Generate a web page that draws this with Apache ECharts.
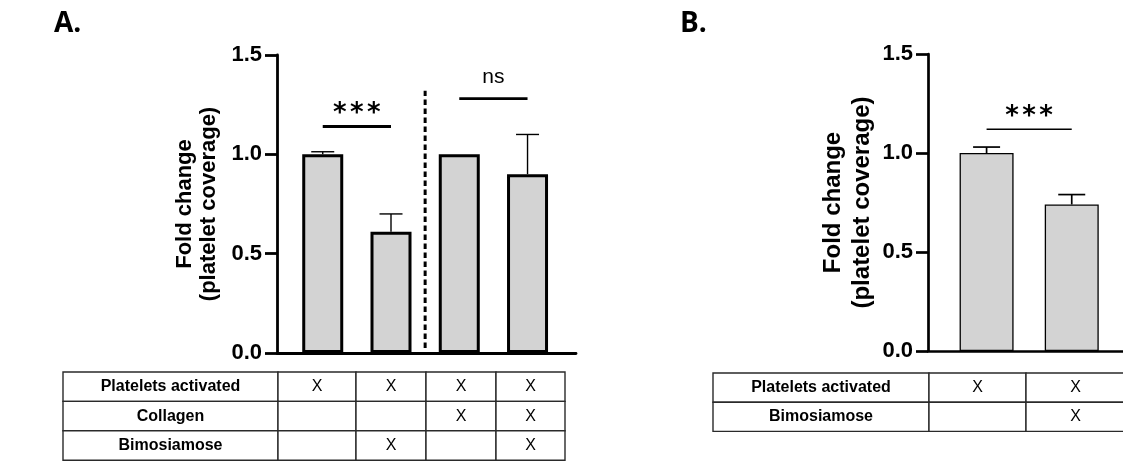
<!DOCTYPE html>
<html>
<head>
<meta charset="utf-8">
<script src="https://cdn.jsdelivr.net/npm/echarts@6/dist/echarts.min.js"></script>
<style>
  html, body { margin: 0; padding: 0; background: #fff; }
  #chart { width: 1123px; height: 472px; }
</style>
</head>
<body>
<div id="chart"></div>
<script>
// ---- Panel A: platelet coverage, without / with collagen, ± bimosiamose ----
const meansA = [1.00, 0.61, 1.00, 0.90];
const errorsA = [0.013, 0.09, 0, 0.20];
const sigA = [
  { from: 0, to: 1, y: 1.14, text: '***' },
  { from: 2, to: 3, y: 1.28, text: 'ns' }
];
const dividerA = { x: 1.5, from: 0.025, to: 1.32 };
const tableRowsA = ['Platelets activated', 'Collagen', 'Bimosiamose'];
const tableMarksA = [[1, 1, 1, 1], [0, 0, 1, 1], [0, 1, 0, 1]];

// ---- Panel B: activated platelets ± bimosiamose ----
const meansB = [1.00, 0.74];
const errorsB = [0.03, 0.05];
const sigB = [{ from: 0, to: 1, y: 1.12, text: '***' }];
const tableRowsB = ['Platelets activated', 'Bimosiamose'];
const tableMarksB = [[1, 1], [0, 1]];

// ---- shared axis ----
const yTicks = [0, 0.5, 1.0, 1.5];
const yName = 'Fold change\n(platelet coverage)';

// ---- layout & styles ----
const FONT = '"Liberation Sans", Arial, sans-serif';
const layout = {
  A: { left: 277, top: 55, width: 299, height: 298, xMin: -0.67, xMax: 3.71,
       barWidth: 41, border: 3, axisW: 2.8, errW: 1.4, capHalf: 11.5, sigW: 2.8,
       nameSize: 22, nameLH: 24, nameGap: 56 },
  B: { left: 928, top: 54, width: 195, height: 297, xMin: -0.688, xMax: 1.602,
       barWidth: 54, border: 1.3, axisW: 2.7, errW: 1.7, capHalf: 13.5, sigW: 1.4,
       nameSize: 24, nameLH: 29, nameGap: 51 },
  tableA: { left: 63, top: 372, colWidths: [215, 78, 70, 70, 69], rowH: 29.4 },
  tableB: { left: 713, top: 373, colWidths: [216, 97, 99], rowH: 29.2 }
};

function chartGrid(L) {
  return { left: L.left, top: L.top, width: L.width, height: L.height, outerBoundsMode: 'none' };
}
function tableGrid(T, rows) {
  const w = T.colWidths.reduce((a, b) => a + b, 0);
  return { left: T.left, top: T.top, width: w, height: T.rowH * rows, outerBoundsMode: 'none' };
}

function chartXAxis(gi, L) {
  return {
    gridIndex: gi, type: 'value', min: L.xMin, max: L.xMax,
    axisLine: { show: true, onZero: true, lineStyle: { color: '#000', width: L.axisW } },
    axisTick: { show: false }, axisLabel: { show: false }, splitLine: { show: false }
  };
}
function chartYAxis(gi, L) {
  return {
    gridIndex: gi, type: 'value', min: 0, max: 1.5, interval: 0.5,
    axisLine: { show: true, onZero: false, lineStyle: { color: '#000', width: L.axisW } },
    axisTick: { show: true, length: 12, customValues: yTicks, lineStyle: { color: '#000', width: L.axisW } },
    axisLabel: { margin: 15, color: '#000', fontSize: 22, fontWeight: 'bold', fontFamily: FONT,
                 customValues: yTicks, formatter: v => v.toFixed(1) },
    splitLine: { show: false },
    name: yName, nameLocation: 'middle', nameRotate: 90, nameGap: L.nameGap,
    nameTextStyle: { color: '#000', fontSize: L.nameSize, fontWeight: 'bold', fontFamily: FONT,
                     lineHeight: L.nameLH, align: 'center' }
  };
}
function hiddenAxis(gi, min, max, inverse) {
  return { gridIndex: gi, type: 'value', min: min, max: max, inverse: !!inverse, show: false,
           splitLine: { show: false } };
}

// vertical error bar (upper half) with a cap
function errorRenderer(L) {
  return function (params, api) {
    const x = api.value(0), m = api.value(1), e = api.value(2);
    if (!e) return null;
    const b = api.coord([x, m]);
    const t = api.coord([x, m + e]);
    const st = { stroke: '#000', lineWidth: L.errW };
    return { type: 'group', children: [
      { type: 'line', shape: { x1: b[0], y1: b[1], x2: t[0], y2: t[1] }, style: st },
      { type: 'line', shape: { x1: t[0] - L.capHalf, y1: t[1], x2: t[0] + L.capHalf, y2: t[1] }, style: st }
    ] };
  };
}

// significance line with its label above
function sigRenderer(list, L) {
  return function (params, api) {
    const s = list[params.dataIndex];
    const a = api.coord([s.from, s.y]);
    const b = api.coord([s.to, s.y]);
    const cx = (a[0] + b[0]) / 2;
    const stars = s.text.indexOf('*') >= 0;
    const label = stars
      ? { type: 'text', style: {
            x: cx, y: a[1] - 12, align: 'center', verticalAlign: 'middle',
            text: s.text.split('').map(ch => '{s|' + ch + '}').join(''),
            rich: { s: { width: 17, align: 'center', fontSize: 26, fontWeight: 'bold',
                         fontFamily: '"DejaVu Sans", sans-serif', fill: '#000' } } } }
      : { type: 'text', style: {
            x: cx, y: a[1] - 22, align: 'center', verticalAlign: 'middle',
            text: s.text, fontSize: 21, fontFamily: FONT, fill: '#000' } };
    return { type: 'group', children: [
      { type: 'line', shape: { x1: a[0], y1: a[1], x2: b[0], y2: b[1] },
        style: { stroke: '#000', lineWidth: L.sigW } },
      label
    ] };
  };
}

// condition table: one bordered cell per row/column
function buildCells(rows, marks, T) {
  const edges = [0];
  T.colWidths.forEach(w => edges.push(edges[edges.length - 1] + w));
  const cells = [];
  rows.forEach((name, r) => {
    cells.push({ x0: edges[0], x1: edges[1], r: r, text: name, bold: true });
    marks[r].forEach((m, c) => {
      cells.push({ x0: edges[c + 1], x1: edges[c + 2], r: r, text: m ? 'X' : '', bold: false });
    });
  });
  return cells;
}
function cellRenderer(cells) {
  return function (params, api) {
    const c = cells[params.dataIndex];
    const p0 = api.coord([c.x0, c.r]);
    const p1 = api.coord([c.x1, c.r + 1]);
    return { type: 'group', children: [
      { type: 'rect', shape: { x: p0[0], y: p0[1], width: p1[0] - p0[0], height: p1[1] - p0[1] },
        style: { fill: '#fff', stroke: '#2a2a2a', lineWidth: 1.4 } },
      { type: 'text', style: { x: (p0[0] + p1[0]) / 2, y: (p0[1] + p1[1]) / 2, text: c.text,
        align: 'center', verticalAlign: 'middle', fontSize: 16,
        fontWeight: c.bold ? 'bold' : 'normal', fontFamily: FONT, fill: '#000' } }
    ] };
  };
}

const cellsA = buildCells(tableRowsA, tableMarksA, layout.tableA);
const cellsB = buildCells(tableRowsB, tableMarksB, layout.tableB);
const sumW = T => T.colWidths.reduce((a, b) => a + b, 0);

function barSeries(gi, means, L) {
  return {
    type: 'bar', xAxisIndex: gi, yAxisIndex: gi, barWidth: L.barWidth, z: 3,
    data: means.map((v, i) => [i, v]),
    itemStyle: { color: '#d3d3d3', borderColor: '#000', borderWidth: L.border },
    emphasis: { disabled: true }, animation: false
  };
}
function errorSeries(gi, means, errs, L) {
  return {
    type: 'custom', xAxisIndex: gi, yAxisIndex: gi, z: 2, clip: false,
    data: means.map((v, i) => [i, v, errs[i]]),
    encode: { x: 0, y: 1 }, renderItem: errorRenderer(L), animation: false
  };
}
function sigSeries(gi, list, L) {
  return {
    type: 'custom', xAxisIndex: gi, yAxisIndex: gi, z: 4, clip: false,
    data: list.map(s => [s.from, s.to, s.y]),
    encode: { x: [0, 1], y: 2 }, renderItem: sigRenderer(list, L), animation: false
  };
}
function tableSeries(gi, cells) {
  return {
    type: 'custom', xAxisIndex: gi, yAxisIndex: gi, clip: false,
    data: cells.map(c => [c.x0, c.x1, c.r]),
    encode: { x: [0, 1], y: 2 }, renderItem: cellRenderer(cells), animation: false
  };
}

const chart = echarts.init(document.getElementById('chart'), null, { renderer: 'canvas' });
chart.setOption({
  backgroundColor: '#fff',
  animation: false,
  grid: [
    chartGrid(layout.A),
    chartGrid(layout.B),
    tableGrid(layout.tableA, tableRowsA.length),
    tableGrid(layout.tableB, tableRowsB.length)
  ],
  xAxis: [
    chartXAxis(0, layout.A),
    chartXAxis(1, layout.B),
    hiddenAxis(2, 0, sumW(layout.tableA)),
    hiddenAxis(3, 0, sumW(layout.tableB))
  ],
  yAxis: [
    chartYAxis(0, layout.A),
    chartYAxis(1, layout.B),
    hiddenAxis(2, 0, tableRowsA.length, true),
    hiddenAxis(3, 0, tableRowsB.length, true)
  ],
  graphic: [
    { type: 'text', x: 54, y: 24, style: { text: 'A.', fill: '#000',
      font: 'bold 28px "Open Sans", sans-serif', verticalAlign: 'middle' } },
    { type: 'text', x: 680, y: 24, style: { text: 'B.', fill: '#000',
      font: 'bold 28px "Open Sans", sans-serif', verticalAlign: 'middle' } }
  ],
  series: [
    barSeries(0, meansA, layout.A),
    errorSeries(0, meansA, errorsA, layout.A),
    sigSeries(0, sigA, layout.A),
    {
      type: 'line', xAxisIndex: 0, yAxisIndex: 0, z: 4, showSymbol: false, silent: true,
      data: [[dividerA.x, dividerA.from], [dividerA.x, dividerA.to]],
      lineStyle: { color: '#000', width: 3, type: [5.5, 3.5] }, animation: false
    },
    barSeries(1, meansB, layout.B),
    errorSeries(1, meansB, errorsB, layout.B),
    sigSeries(1, sigB, layout.B),
    tableSeries(2, cellsA),
    tableSeries(3, cellsB)
  ]
});
</script>
</body>
</html>
